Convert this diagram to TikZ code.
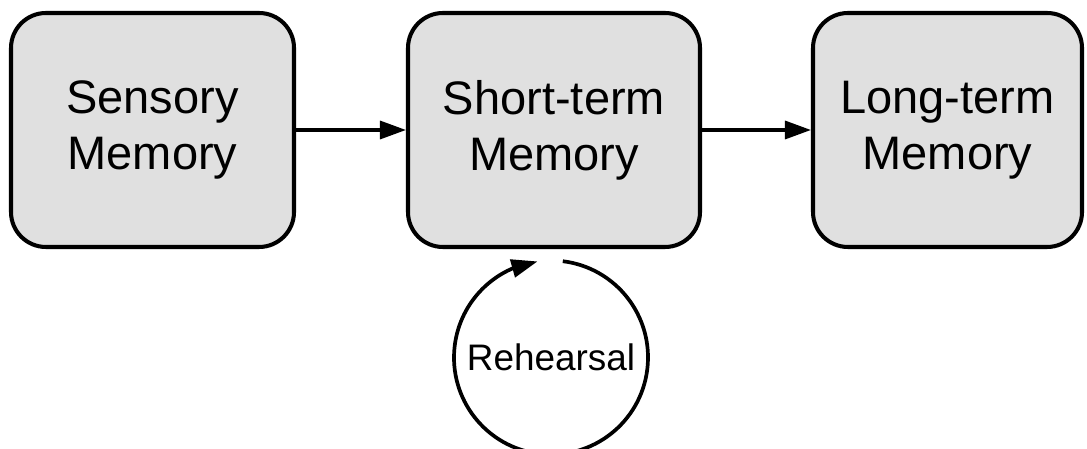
\documentclass[tikz,border=0pt]{standalone}
\usepackage{fontspec}
\setmainfont{Liberation Sans}
\usetikzlibrary{arrows.meta, bending}
\definecolor{memgray}{RGB}{224,224,224}

\begin{document}
\begin{tikzpicture}[
    memory/.style={draw, line width=2.3pt, fill=memgray, rounded corners=0.7cm,
        minimum height=4.68cm, align=center, font=\fontsize{26.75}{31.9}\selectfont},
    flow/.style={line width=1.9pt, -{Triangle[length=0.52cm, width=0.36cm]}}
]
    \useasboundingbox (0, 0) rectangle (21.74, 8.98);

    % the three stores
    \node[memory, minimum width=5.66cm] (sensory) at (3.05, 6.38) {Sensory\\Memory};
    \node[memory, minimum width=5.84cm] (short) at (11.08, 6.38) {Short-term\\Memory};
    \node[memory, minimum width=5.38cm] (long) at (18.95, 6.38) {Long-term\\Memory};

    \draw[flow] (sensory) -- (short);
    \draw[flow] (short) -- (long);

    % rehearsal loop under the short-term store
    \node[circle, minimum size=3.88cm, inner sep=0pt, outer sep=0pt,
        font=\fontsize{21}{25}\selectfont] (rehearsal) at (11.02, 1.83) {Rehearsal};
    \draw[flow, line width=2.1pt, -{Triangle[length=0.52cm, width=0.36cm, flex]}]
        (rehearsal.83) arc[start angle=83, end angle=-262, radius=1.94cm];

\end{tikzpicture}
\end{document}
